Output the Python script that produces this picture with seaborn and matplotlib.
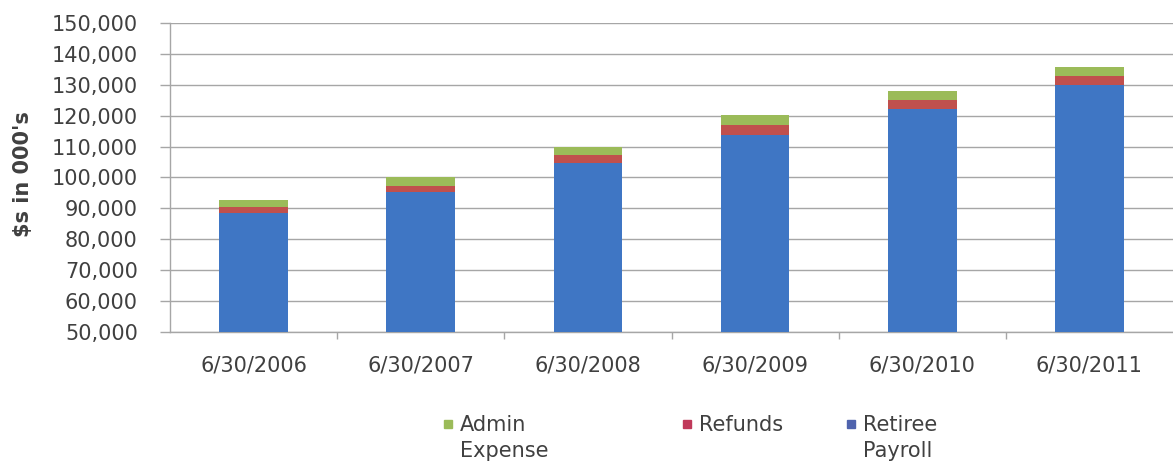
import matplotlib
matplotlib.use("Agg")
import matplotlib.pyplot as plt
from matplotlib.lines import Line2D
from matplotlib.legend_handler import HandlerLine2D
from matplotlib.transforms import Affine2D
from matplotlib.ticker import FuncFormatter, FixedLocator
import seaborn as sns
import pandas as pd
import numpy as np

categories = ["6/30/2006", "6/30/2007", "6/30/2008", "6/30/2009", "6/30/2010", "6/30/2011"]
retiree_payroll = [88600, 95400, 104800, 113800, 122100, 129900]
refunds = [1900, 1700, 2400, 3200, 3000, 2900]
admin_expense = [2200, 3100, 2600, 3200, 3000, 3100]
series_labels = ["Admin\nExpense", "Refunds\n ", "Retiree\nPayroll"]
y_label = "$s in 000's"

c_blue = "#3f76c4"
c_red = "#c0504d"
c_green = "#9bbb59"
legend_colors = [c_green, "#c0395a", "#4f63ad"]

sns.set_theme(style="white")
plt.rcParams["font.family"] = ["DejaVu Sans"]
text_color = "#404040"

df = pd.DataFrame({
    "date": categories,
    "retiree": retiree_payroll,
    "refunds": refunds,
    "admin": admin_expense,
})
df["lvl2"] = df["retiree"] + df["refunds"]
df["lvl3"] = df["lvl2"] + df["admin"]

W, H = 1173, 466
fig = plt.figure(figsize=(W / 100, H / 100), dpi=100)
ax = fig.add_axes([170 / W, 1 - 332 / H, 1 - 170 / W, (332 - 23) / H])

w = 0.41
for col, c in [("lvl3", c_green), ("lvl2", c_red), ("retiree", c_blue)]:
    sns.barplot(data=df, x="date", y=col, color=c, width=w, saturation=1, ax=ax,
                zorder=3, linewidth=0, edgecolor="none")

ax.set_ylim(50000, 150000)
ax.set_xlim(-0.5, len(categories) - 0.5)
ax.set_yticks(np.arange(50000, 150001, 10000))
ax.yaxis.set_major_formatter(FuncFormatter(lambda v, p: f"{int(v):,}"))
ax.grid(axis="y", color="#a6a6a6", linewidth=1.0, zorder=0)
ax.grid(axis="x", visible=False)
ax.set_axisbelow(True)

for s in ["top", "right"]:
    ax.spines[s].set_visible(False)
for s in ["left", "bottom"]:
    ax.spines[s].set_color("#a6a6a6")
    ax.spines[s].set_linewidth(1.0)

ax.tick_params(axis="y", which="major", left=True, length=7.2, width=1, color="#a6a6a6",
               labelsize=15, labelcolor=text_color, pad=16)
ax.tick_params(axis="x", which="major", bottom=False, labelsize=15, labelcolor=text_color, pad=11)
ax.xaxis.set_minor_locator(FixedLocator(np.arange(0.5, len(categories) - 0.5, 1.0)))
ax.tick_params(axis="x", which="minor", bottom=True, length=5, width=1, color="#a6a6a6")

ax.set_xlabel("")
ax.set_ylabel(y_label, fontsize=15, fontweight="bold", color=text_color)
ax.yaxis.set_label_coords((33 - 170) / 1003, 0.511)

leg_fs = 15
line_sp = 1.4


class TopHandler(HandlerLine2D):
    def create_artists(self, legend, orig_handle, xdescent, ydescent, width, height,
                       fontsize, trans):
        arts = super().create_artists(legend, orig_handle, xdescent, ydescent, width,
                                      height, fontsize, trans)
        shift = Affine2D().translate(0, 0.5 * line_sp * fontsize)
        for a in arts:
            a.set_transform(shift + trans)
        return arts


leg_left_px = [443, 682, 846]
for lbl, c, xl in zip(series_labels, legend_colors, leg_left_px):
    h = Line2D([], [], marker="s", linestyle="none", color=c, markersize=6)
    lg = fig.legend([h], [lbl], loc="upper left", bbox_to_anchor=(xl / W, 1 - 415 / H),
                    frameon=False, fontsize=leg_fs, handlelength=0.5, handletextpad=0.3,
                    borderpad=0, borderaxespad=0, labelcolor=text_color,
                    handler_map={Line2D: TopHandler()})
    for t in lg.get_texts():
        t.set_linespacing(line_sp)

fig.savefig("out.png", dpi=100)
